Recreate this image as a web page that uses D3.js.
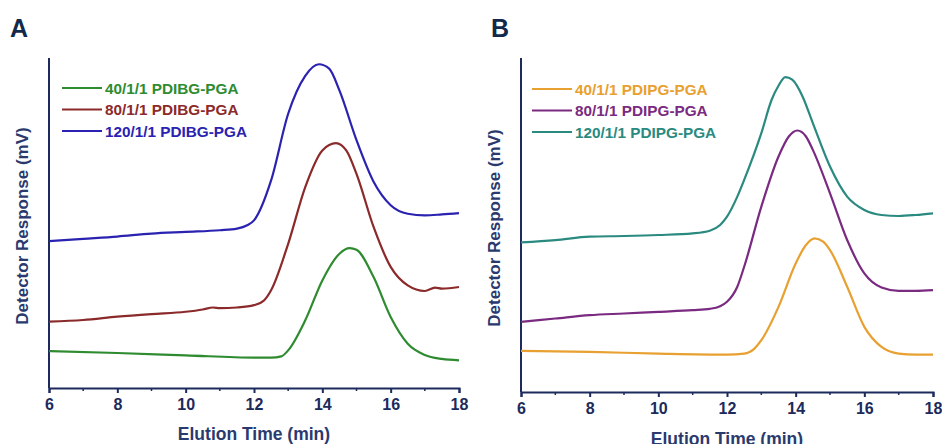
<!DOCTYPE html>
<html>
<head>
<meta charset="utf-8">
<script src="https://cdn.jsdelivr.net/npm/d3@7"></script>
<style>
  body { margin: 0; background: #fff; }
  svg text { font-family: "Liberation Sans", Arial, sans-serif; font-weight: bold; }
</style>
</head>
<body>
<svg id="chart" width="942" height="444"></svg>
<script>
// elution times shared by the axis
const xTicks = [6, 8, 10, 12, 14, 16, 18];
const xMinorTicks = [7, 9, 11, 13, 15, 17];

// Panel A: PDIBG-PGA traces (arbitrary detector units, 0-100)
const greenA = [[6,11.2],[8,10.6],[10,9.9],[12,9.2],[12.5,9.2],[12.8,9.6],[13,11.4],[13.5,20.5],[14,32.6],[14.5,40.7],[14.8,42.4],[15,41.9],[15.5,33.6],[16,21.5],[16.5,13.4],[17,10.0],[17.5,8.8],[18,8.4]];
const redA = [[6,20.1],[7,20.6],[8,21.6],[9,22.4],[10,23.1],[10.5,23.8],[10.8,24.4],[11,24.2],[11.5,24.4],[12,25.1],[12.3,26.6],[12.5,29.6],[13,43.7],[13.5,60.9],[14,72.0],[14.4,74.2],[14.7,72.0],[15,64.9],[15.5,48.8],[16,36.7],[16.5,31.1],[17,29.4],[17.3,30.4],[17.5,30.1],[18,30.6]];
const blueA = [[6,44.5],[7,45.2],[8,45.9],[9,46.8],[10,47.3],[11,47.8],[11.5,48.3],[11.8,49.3],[12,50.8],[12.5,62.9],[13,83.1],[13.5,94.6],[13.9,98.1],[14.2,96.8],[14.5,90.2],[15,75.1],[15.5,62.5],[16,55.4],[16.5,52.8],[17,52.3],[17.5,52.6],[18,53.0]];

// Panel B: PDIPG-PGA traces
const orangeB = [[6,12.3],[8,12.0],[10,11.5],[12,11.2],[12.5,11.5],[12.8,13.0],[13,15.5],[13.5,25.5],[14,38.5],[14.3,44],[14.55,46],[14.8,45],[15,42.5],[15.5,31.5],[16,19.5],[16.5,13.5],[17,11.5],[17.5,11.2],[18,11.2]];
const purpleB = [[6,21],[7,22],[8,23],[9,23.5],[10,24],[11,24.5],[11.5,24.9],[11.8,25.7],[12,27],[12.3,31.5],[12.5,37.5],[13,55.5],[13.5,70.5],[13.8,76.5],[14.05,78.3],[14.3,76.5],[14.5,72.5],[15,59.5],[15.5,45.5],[16,35.5],[16.5,31.3],[17,30.3],[17.5,30.3],[18,30.5]];
const tealB = [[6,44.8],[7,45.5],[8,46.5],[9,46.7],[10,47],[11,47.5],[11.5,48.3],[11.8,50],[12,52.5],[12.3,58.5],[12.5,63.5],[13,77.5],[13.3,87.5],[13.5,91.7],[13.7,94.3],[13.9,93.5],[14.2,88.5],[14.5,80.5],[15,67.5],[15.5,58.5],[16,54.5],[16.5,53],[17,52.7],[17.5,53],[18,53.5]];

const labelsA = ["40/1/1 PDIBG-PGA", "80/1/1 PDIBG-PGA", "120/1/1 PDIBG-PGA"];
const labelsB = ["40/1/1 PDIPG-PGA", "80/1/1 PDIPG-PGA", "120/1/1 PDIPG-PGA"];

const navy = "#1c2a5c";
const svg = d3.select("#chart");

function drawPanel(opt) {
  const x = d3.scaleLinear().domain([6, 18]).range([opt.left, opt.right]);
  const y = d3.scaleLinear().domain([0, 100]).range([opt.bottom, opt.top]);
  const g = svg.append("g");

  // panel letter
  g.append("text")
    .attr("x", opt.letterX).attr("y", 37)
    .style("font-size", "25px").style("fill", "#13294b")
    .text(opt.letter);

  // y axis: plain line, no ticks
  g.append("line")
    .attr("x1", opt.left).attr("x2", opt.left)
    .attr("y1", opt.top).attr("y2", opt.bottom)
    .attr("stroke", navy).attr("stroke-width", 2);

  // x axis with major and minor ticks
  const xAxis = g.append("g")
    .attr("transform", `translate(0,${opt.bottom})`)
    .call(d3.axisBottom(x).tickValues(xTicks).tickFormat(d3.format("d")).tickSize(5).tickPadding(6));
  xAxis.select(".domain").attr("stroke", navy).attr("stroke-width", 2);
  xAxis.selectAll(".tick line").attr("stroke", navy).attr("stroke-width", 2);
  xAxis.selectAll(".tick text")
    .style("font-size", "16px").style("fill", navy)
    .style("font-family", "'Liberation Sans', Arial, sans-serif").style("font-weight", "bold");
  xAxis.selectAll(".minor")
    .data(xMinorTicks).enter().append("line")
    .attr("x1", d => x(d)).attr("x2", d => x(d))
    .attr("y1", 0).attr("y2", 3)
    .attr("stroke", navy).attr("stroke-width", 1.5);

  // axis titles
  g.append("text")
    .attr("x", (opt.left + opt.right) / 2).attr("y", opt.titleY)
    .attr("text-anchor", "middle")
    .style("font-size", "17.5px").style("fill", "#2a3a6e")
    .text("Elution Time (min)");
  g.append("text")
    .attr("transform", `translate(${opt.left - 21},${(opt.top + opt.bottom) / 2 + 3}) rotate(-90)`)
    .attr("text-anchor", "middle")
    .style("font-size", "17px").style("fill", "#2a3a6e")
    .text("Detector Response (mV)");

  // traces
  const line = d3.line()
    .x(d => x(d[0])).y(d => y(d[1]))
    .curve(d3.curveMonotoneX);
  opt.series.forEach((s, i) => {
    g.append("path")
      .datum(s)
      .attr("fill", "none")
      .attr("stroke", opt.colors[i])
      .attr("stroke-width", 2.2)
      .attr("d", line);
  });

  // legend
  opt.labels.forEach((lab, i) => {
    const ly = opt.legendY + i * 21.5;
    g.append("line")
      .attr("x1", opt.legendX).attr("x2", opt.legendX + 40)
      .attr("y1", ly).attr("y2", ly)
      .attr("stroke", opt.colors[i]).attr("stroke-width", 2);
    g.append("text")
      .attr("x", opt.legendX + 43).attr("y", ly + 5.5)
      .style("font-size", "15.3px").style("fill", opt.colors[i])
      .text(lab);
  });
}

drawPanel({
  letter: "A", letterX: 10,
  left: 49, right: 459, top: 58, bottom: 388, titleY: 440,
  series: [greenA, redA, blueA],
  colors: ["#2e8b30", "#8b2a2a", "#2a22b0"],
  labels: labelsA, legendX: 62, legendY: 88
});

drawPanel({
  letter: "B", letterX: 491,
  left: 521, right: 933, top: 58, bottom: 392, titleY: 445,
  series: [orangeB, purpleB, tealB],
  colors: ["#e8a030", "#7a2a80", "#2a8a80"],
  labels: labelsB, legendX: 532, legendY: 89
});
</script>
</body>
</html>
